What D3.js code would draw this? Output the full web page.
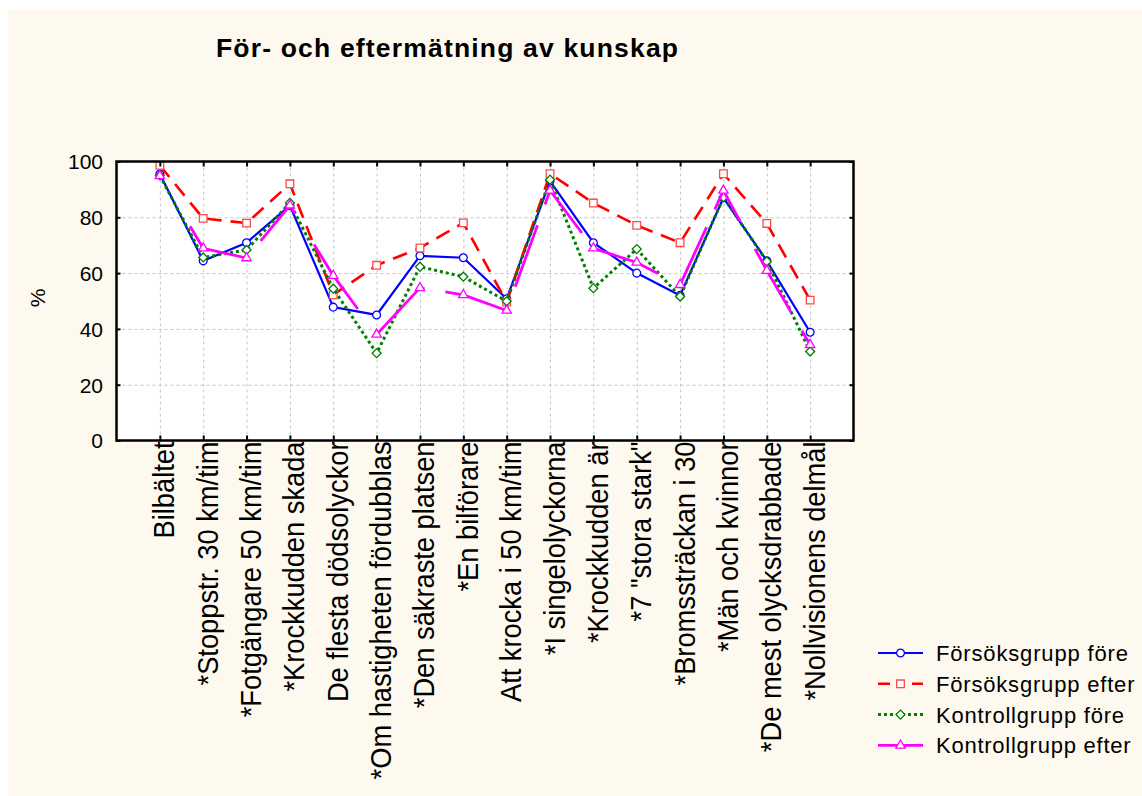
<!DOCTYPE html>
<html><head><meta charset="utf-8">
<script src="https://cdn.jsdelivr.net/npm/d3@7"></script>
<style>
body{margin:0;background:#fff;}
svg{display:block;font-family:"Liberation Sans",Arial,sans-serif;}
</style>
</head><body>
<svg id="c" width="1142" height="796"></svg>
<script>
// ---- data ----
const categories = [
  "Bilbältet",
  "*Stoppstr. 30 km/tim",
  "*Fotgängare 50 km/tim",
  "*Krockkudden skada",
  "De flesta dödsolyckor",
  "*Om hastigheten fördubblas",
  "*Den säkraste platsen",
  "*En bilförare",
  "Att krocka i 50 km/tim",
  "*I singelolyckorna",
  "*Krockkudden är",
  "*7 \"stora stark\"",
  "*Bromssträckan i 30",
  "*Män och kvinnor",
  "*De mest olycksdrabbade",
  "*Nollvisionens delmål"
];
const forsoksFore   = [95.5, 64.4, 70.9, 84.2, 47.8, 45.0, 66.2, 65.5, 50.8, 93.0, 70.9, 60.0, 52.0, 87.0, 64.4, 38.8];
const forsoksEfter  = [98.6, 79.6, 77.9, 92.0, 52.2, 62.8, 69.0, 78.0, 49.6, 95.6, 85.1, 77.1, 70.9, 95.6, 77.8, 50.3];
const kontrollFore  = [95.0, 65.6, 68.3, 85.2, 54.4, 31.3, 62.3, 58.7, 49.9, 93.5, 54.6, 68.6, 51.6, 87.2, 64.2, 31.9];
const kontrollEfter = [94.8, 68.9, 65.4, 84.3, 59.1, 38.0, 54.7, 52.2, 46.6, 89.6, 68.9, 63.8, 55.8, 89.6, 60.9, 34.3];
const seriesNames = ["Försöksgrupp före", "Försöksgrupp efter", "Kontrollgrupp före", "Kontrollgrupp efter"];
const yTicks = [0, 20, 40, 60, 80, 100];
const titleText = "För- och eftermätning av kunskap";
const yAxisLabel = "%";

// ---- layout ----
const svg = d3.select("#c");
const L = 116.5, R = 853.5, T = 161.5, B = 440.5;

svg.append("rect").attr("x", 8).attr("y", 10).attr("width", 1142).attr("height", 796).attr("fill", "#fdf9ee");

const x = d3.scalePoint().domain(categories).range([L, R]).padding(1);
const y = d3.scaleLinear().domain([0, 100]).range([B, T]);

svg.append("rect").attr("x", L).attr("y", T).attr("width", R - L).attr("height", B - T).attr("fill", "#fff");

// grid
const gridY = svg.append("g").attr("transform", `translate(${L},0)`)
  .call(d3.axisLeft(y).tickValues(yTicks.filter(v => v > 0 && v < 100)).tickSize(-(R - L)).tickFormat(""));
const gridX = svg.append("g").attr("transform", `translate(0,${B})`)
  .call(d3.axisBottom(x).tickSize(-(B - T)).tickFormat(""));
[gridY, gridX].forEach(g => {
  g.select(".domain").remove();
  g.selectAll(".tick line").attr("stroke", "#c4c4c4").attr("stroke-width", 1).attr("stroke-dasharray", "3,3");
});

// series
const styles = [
  {color: "#0000ff", width: 2.2, dash: null, marker: "circle", mstroke: "#0000ff"},
  {color: "#ff0000", width: 2.6, dash: "15,9", marker: "square", mstroke: "#ff4a4a"},
  {color: "#007f00", width: 3, dash: "3,3", marker: "diamond", mstroke: "#007f00"},
  {color: "#ff00ff", width: 2.8,
   dash: "0,58.7,70.3,22,56,36,78,29,71,21,65,24.5,65.5,22,68,21.6,66.9,24.5,64,19.5,56.5,30.6,73.1,21.3,200,100",
   marker: "triangle", mstroke: "#ff00ff"}
];
const allSeries = [forsoksFore, forsoksEfter, kontrollFore, kontrollEfter];

function markerPath(type) {
  if (type === "circle") return d3.symbol(d3.symbolCircle, 48)();
  if (type === "square") return d3.symbol(d3.symbolSquare, 58)();
  if (type === "diamond") return d3.symbol(d3.symbolSquare, 40)();
  return d3.symbol(d3.symbolTriangle, 38)();
}
function drawMarker(g, type, cx, cy, stroke) {
  g.append("path").attr("d", markerPath(type))
    .attr("transform", `translate(${cx},${cy})` + (type === "diamond" ? " rotate(45)" : ""))
    .attr("fill", "#fff").attr("stroke", stroke).attr("stroke-width", 1.3);
}

const line = d3.line().x((d, i) => x(categories[i])).y(d => y(d));
allSeries.forEach((vals, si) => {
  const st = styles[si];
  const g = svg.append("g");
  g.append("path").attr("d", line(vals)).attr("fill", "none")
    .attr("stroke", st.color).attr("stroke-width", st.width)
    .attr("stroke-dasharray", st.dash);
  vals.forEach((v, i) => drawMarker(g, st.marker, x(categories[i]), y(v), st.mstroke));
});

// axes / ticks
const axL = svg.append("g").attr("transform", `translate(${L},0)`)
  .call(d3.axisLeft(y).tickValues(yTicks).tickSize(-4).tickPadding(13.5));
const axR = svg.append("g").attr("transform", `translate(${R},0)`)
  .call(d3.axisRight(y).tickValues(yTicks).tickSize(-4).tickFormat(""));
const axT = svg.append("g").attr("transform", `translate(0,${T})`)
  .call(d3.axisTop(x).tickSize(-5).tickFormat(""));
const axB = svg.append("g").attr("transform", `translate(0,${B})`)
  .call(d3.axisBottom(x).tickSize(-5));
[axL, axR, axT, axB].forEach(g => {
  g.select(".domain").remove();
  g.selectAll(".tick line").attr("stroke", "#000").attr("stroke-width", 2);
});
axL.selectAll("text").attr("font-size", 21).attr("fill", "#000")
  .attr("font-family", "'Liberation Sans', Arial, sans-serif").attr("dy", "0.35em");
axB.selectAll("text")
  .attr("x", null).attr("y", null).attr("dy", null)
  .attr("transform", "translate(14,1) rotate(-90)")
  .attr("text-anchor", "end").attr("font-size", 29).attr("fill", "#000")
  .attr("font-family", "'Liberation Sans', Arial, sans-serif")
  .each(function () {
    const len = this.getComputedTextLength();
    d3.select(this).attr("textLength", len * 0.94).attr("lengthAdjust", "spacingAndGlyphs");
  });

// border
svg.append("rect").attr("x", L).attr("y", T).attr("width", R - L).attr("height", B - T)
  .attr("fill", "none").attr("stroke", "#000").attr("stroke-width", 2.5);

// y label
svg.append("text").attr("transform", `translate(38,${(T + B) / 2 - 3}) rotate(-90)`)
  .attr("text-anchor", "middle").attr("dy", "0.35em").attr("font-size", 21).text(yAxisLabel);

// title
svg.append("text").attr("x", 216).attr("y", 57).attr("font-size", 26.5).attr("font-weight", "bold")
  .attr("textLength", 462).attr("lengthAdjust", "spacing").text(titleText);

// legend
const legY0 = 653, legStep = 30.8;
seriesNames.forEach((name, si) => {
  const st = styles[si];
  const gy = legY0 + si * legStep;
  const g = svg.append("g");
  g.append("line").attr("x1", 878).attr("x2", 923).attr("y1", gy).attr("y2", gy)
    .attr("stroke", st.color).attr("stroke-width", st.width)
    .attr("stroke-dasharray", si === 1 ? "12,8,6,8" : (si === 2 ? "3,3" : null));
  drawMarker(g, st.marker, 900.5, gy, st.mstroke);
  g.append("text").attr("x", 936).attr("y", gy).attr("dy", "0.36em").attr("font-size", 22).text(name)
    .each(function () {
      const len = this.getComputedTextLength();
      d3.select(this).attr("textLength", len * 1.075).attr("lengthAdjust", "spacing");
    });
});
</script>
</body></html>
